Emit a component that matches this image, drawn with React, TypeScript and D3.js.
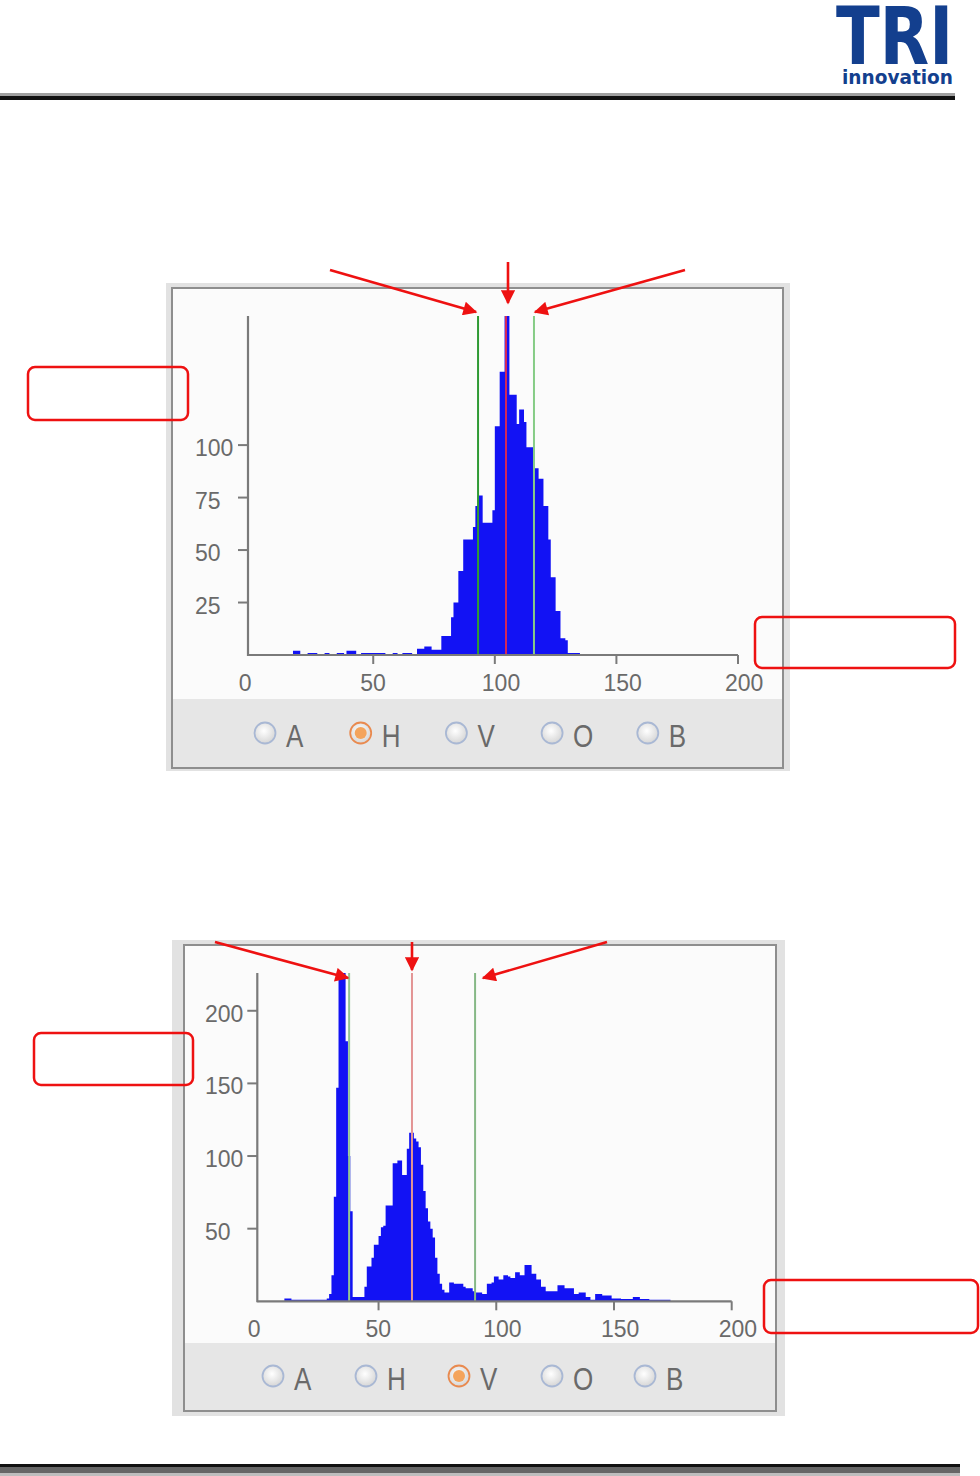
import React from 'react';
import * as d3 from 'd3';

// ---------- data ----------
const xTickValues = [0, 50, 100, 150, 200];
const hueYTicks = [25, 50, 75, 100];
const valueYTicks = [50, 100, 150, 200];
const radioLabels = ['A', 'H', 'V', 'O', 'B'];

// hue histogram, 1-unit bins starting at bin 17
const hueStartBin = 17;
const hueCounts = [
  2, 2, 2, 0, 0, 0, 1, 1, 1, 1, 0, 0, 0, 1, 1, 0, 0, 0, 1, 1, 1, 0, 2, 2, 2, 2, 0, 0,
  1, 1, 1, 1, 1, 1, 1, 1, 1, 1, 0, 0, 0, 1, 1, 0, 0, 1, 1, 1, 1, 0, 0,
  3, 3, 3, 4, 4, 4, 2.5, 2.5, 2.5, 2.5,
  9, 9, 9, 9, 18, 25, 25, 40, 40, 55, 55, 55, 55, 61, 71, 76, 76, 63, 63, 63, 63, 69,
  109, 109, 135, 135, 170, 170, 124, 124, 124, 110, 117, 117, 111, 99, 99, 99, 89, 89,
  84, 84, 71, 71, 55, 37, 37, 21, 21, 8, 8, 7, 1, 1, 1, 1, 1,
];
const hueMarkers = [93.1, 104.6, 116.1]; // mean - sd, mean, mean + sd

// value histogram, 1-unit bins starting at bin 10
const valueStartBin = 10;
const valueCounts = [
  2, 2, 2, 1, 1, 1, 1, 1, 1, 1, 1, 1, 1, 1, 1, 1, 1, 1, 2, 5, 18, 72, 147, 230, 230, 230,
  179, 100, 62, 3, 3, 3, 3, 3, 10, 24, 24, 30, 39, 39, 45, 51, 52, 66, 66, 66, 95, 95, 97,
  97, 87, 87, 105, 116, 116, 112, 110, 106, 94, 76, 64, 55, 50, 44, 30, 19, 12, 8, 6, 6,
  13, 13, 12, 12, 12, 12, 10, 9, 9, 9, 7, 6, 6, 6, 5, 5, 12, 12, 13, 17, 17, 15, 15, 18,
  18, 17, 16, 16, 20, 20, 18, 18, 25, 25, 25, 19, 19, 15, 15, 10, 10, 7, 7, 7, 7, 7, 11,
  11, 11, 9, 9, 9, 9, 5, 5, 6, 6, 6, 3, 3, 1, 1, 5, 5, 5, 4, 4, 4, 4, 2, 2, 2, 2, 1.5,
  1.5, 1.5, 1.5, 1.5, 3, 3, 3, 1.5, 1.5, 1.5, 1.5, 1, 1, 1, 1, 1, 1, 1, 1, 1,
];
const valueMarkers = [37.5, 64.2, 91.0];

// ---------- panel component ----------
type PanelProps = {
  outer: [number, number, number, number];
  inner: [number, number, number, number];
  footerY: number;
  xRange: [number, number];
  yRange: [number, number];
  yMax: number;
  yTicks: number[];
  yLabelX: number;
  counts: number[];
  startBin: number;
  markers: number[];
  markerColors: string[];
  radioY: number;
  radioX0: number;
  radioStep: number;
  selected: number;
};

function Panel(p: PanelProps) {
  const x = d3.scaleLinear().domain([-1.5, 200]).range(p.xRange);
  const y = d3.scaleLinear().domain([0, p.yMax]).range(p.yRange);
  const pts = p.counts.map((c, i) => [p.startBin + i, Math.min(c, p.yMax)] as [number, number]);
  pts.push([p.startBin + p.counts.length, 0]);
  const area = d3
    .area<[number, number]>()
    .x((d) => x(d[0]))
    .y0(y(0))
    .y1((d) => y(d[1]))
    .curve(d3.curveStepAfter);
  const axisX = p.xRange[0];
  const base = y(0);
  const top = y(p.yMax);
  const axisColor = '#7a7a7a';
  const labelColor = '#6a6a6a';
  const [ox, oy, ow, oh] = p.outer;
  const [ix, iy, iw, ih] = p.inner;
  return (
    <g>
      <rect x={ox} y={oy} width={ow} height={oh} fill="#e2e2e2" />
      <rect x={ix} y={iy} width={iw} height={ih} fill="#fbfbfb" stroke="#8e8e8e" strokeWidth={2} />
      <rect x={ix + 1} y={p.footerY} width={iw - 2} height={iy + ih - p.footerY - 1} fill="#e6e6e6" />
      <path d={area(pts) || ''} fill="#1212f4" />
      {p.markers.map((m, i) => (
        <line key={i} x1={x(m)} x2={x(m)} y1={top} y2={base} stroke={p.markerColors[i]} strokeWidth={2} />
      ))}
      {/* axes */}
      <line x1={axisX} x2={axisX} y1={top} y2={base + 1} stroke={axisColor} strokeWidth={2.2} />
      <line x1={axisX} x2={x(200)} y1={base} y2={base} stroke={axisColor} strokeWidth={2.2} />
      {xTickValues.map((t) => (
        <g key={t}>
          {t > 0 && <line x1={x(t)} x2={x(t)} y1={base} y2={base + 9} stroke={axisColor} strokeWidth={2} />}
          <text x={x(t) - 13} y={base + 36} fontSize={23} fill={labelColor} fontFamily="'Liberation Sans', Arial, sans-serif">
            {t}
          </text>
        </g>
      ))}
      {p.yTicks.map((t) => (
        <g key={t}>
          <line x1={axisX - 10} x2={axisX} y1={y(t)} y2={y(t)} stroke={axisColor} strokeWidth={2} />
          <text x={p.yLabelX} y={y(t) + 11} fontSize={23} fill={labelColor} fontFamily="'Liberation Sans', Arial, sans-serif">
            {t}
          </text>
        </g>
      ))}
      {/* radio buttons */}
      {radioLabels.map((l, i) => {
        const cx = p.radioX0 + i * p.radioStep;
        const sel = i === p.selected;
        return (
          <g key={l}>
            <circle cx={cx} cy={p.radioY} r={10.5} fill="url(#radioFill)" stroke={sel ? '#e98a4f' : '#a9b8d4'} strokeWidth={1.8} />
            {sel && <circle cx={cx} cy={p.radioY} r={6} fill="#f4a45c" />}
            <text
              transform={`translate(${cx + 21},${p.radioY + 14}) scale(0.84,1)`}
              fontSize={31}
              fill="#6a6a6a"
              fontFamily="'Liberation Sans', Arial, sans-serif"
            >
              {l}
            </text>
          </g>
        );
      })}
    </g>
  );
}

function Arrow({ x1, y1, x2, y2 }: { x1: number; y1: number; x2: number; y2: number }) {
  return <line x1={x1} y1={y1} x2={x2} y2={y2} stroke="#ee1111" strokeWidth={2.6} markerEnd="url(#arrowHead)" />;
}

export default function App() {
  return (
    <svg width={980} height={1476} style={{ position: 'absolute', left: 0, top: 0, background: '#fff' }}>
      <defs>
        <radialGradient id="radioFill" cx="45%" cy="40%" r="60%">
          <stop offset="0%" stopColor="#ffffff" />
          <stop offset="100%" stopColor="#d6d6d6" />
        </radialGradient>
        <marker id="arrowHead" viewBox="0 0 10 10" refX="9" refY="5" markerWidth="6" markerHeight="5.4" orient="auto" markerUnits="strokeWidth">
          <path d="M0,0 L10,5 L0,10 z" fill="#ee1111" />
        </marker>
      </defs>

      {/* header */}
      <text x={836} y={64} fontSize={80} fontWeight="bold" fill="#133f8e" fontFamily="'DejaVu Sans', sans-serif" textLength={117} lengthAdjust="spacingAndGlyphs">
        TRI
      </text>
      <text x={842} y={84} fontSize={19} fontWeight="bold" fill="#133f8e" fontFamily="'DejaVu Sans', sans-serif" textLength={111} lengthAdjust="spacingAndGlyphs">
        innovation
      </text>
      <rect x={0} y={93} width={955} height={3} fill="#a0a0a0" />
      <rect x={0} y={96} width={955} height={4} fill="#111" />

      <Panel
        outer={[166, 283, 624, 488]}
        inner={[172, 288, 611, 480]}
        footerY={699}
        xRange={[248, 738]}
        yRange={[655, 316]}
        yMax={161.5}
        yTicks={hueYTicks}
        yLabelX={195}
        counts={hueCounts}
        startBin={hueStartBin}
        markers={hueMarkers}
        markerColors={['#2f9a34', '#d2285a', '#86cc86']}
        radioY={733}
        radioX0={265}
        radioStep={95.7}
        selected={1}
      />
      <Panel
        outer={[172, 940, 613, 476]}
        inner={[184, 945, 592, 466]}
        footerY={1343}
        xRange={[257.3, 731.7]}
        yRange={[1301.3, 973]}
        yMax={226}
        yTicks={valueYTicks}
        yLabelX={205}
        counts={valueCounts}
        startBin={valueStartBin}
        markers={valueMarkers}
        markerColors={['#93c493', '#e39494', '#86b886']}
        radioY={1376}
        radioX0={273}
        radioStep={93}
        selected={2}
      />

      {/* annotations */}
      <Arrow x1={330} y1={270} x2={476} y2={312} />
      <Arrow x1={508} y1={262} x2={508} y2={303} />
      <Arrow x1={685} y1={270} x2={535} y2={312} />
      <rect x={28} y={367} width={160} height={53} rx={7} fill="none" stroke="#ee1111" strokeWidth={2.5} />
      <rect x={755} y={617} width={200} height={51} rx={7} fill="none" stroke="#ee1111" strokeWidth={2.5} />

      <Arrow x1={215} y1={942} x2={348} y2={978} />
      <Arrow x1={412} y1={942} x2={412} y2={970} />
      <Arrow x1={607} y1={942} x2={483} y2={978} />
      <rect x={34} y={1033} width={159} height={52} rx={7} fill="none" stroke="#ee1111" strokeWidth={2.5} />
      <rect x={764} y={1280} width={214} height={53} rx={7} fill="none" stroke="#ee1111" strokeWidth={2.5} />

      {/* footer rule */}
      <rect x={0} y={1464} width={960} height={3} fill="#111" />
      <rect x={0} y={1467} width={960} height={6} fill="#666" />
      <rect x={0} y={1473} width={960} height={3} fill="#bdbdbd" />
    </svg>
  );
}
